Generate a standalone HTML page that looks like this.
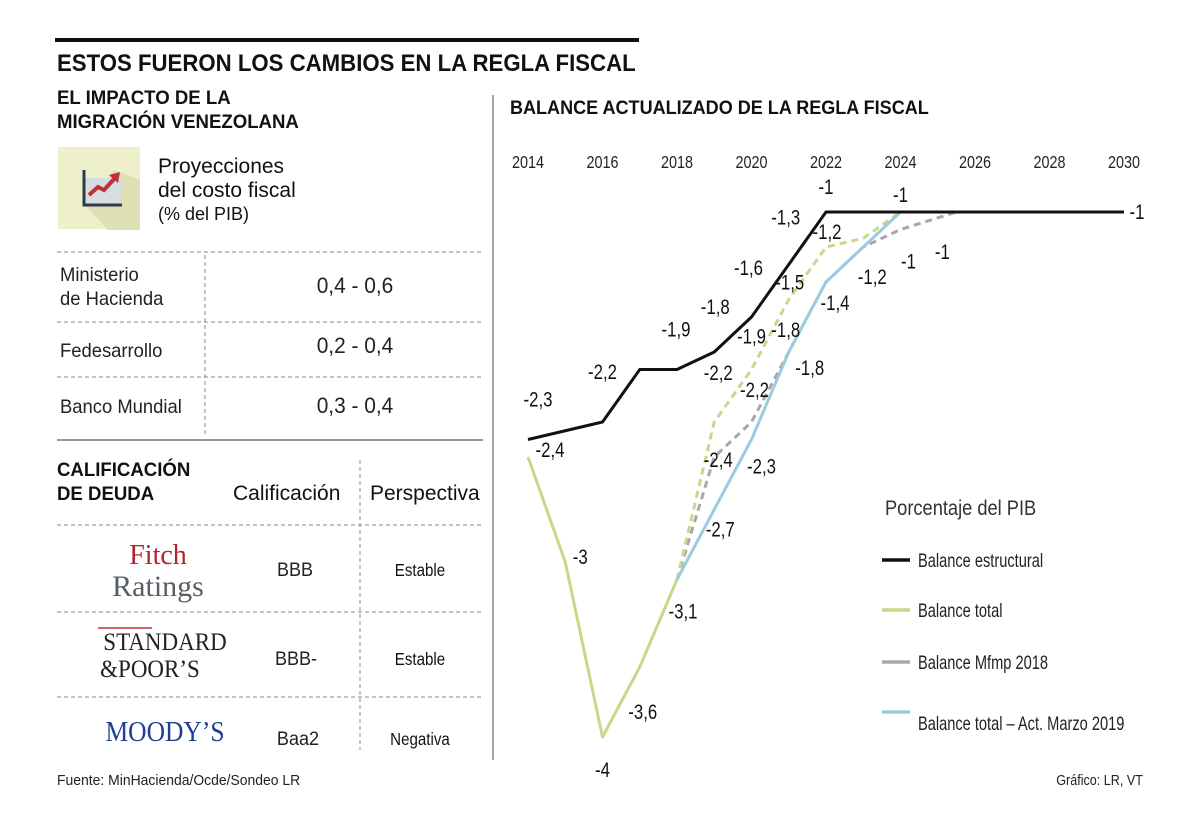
<!DOCTYPE html>
<html><head><meta charset="utf-8"><style>
html,body{margin:0;padding:0;background:#fff;}
svg{display:block;font-family:"Liberation Sans Narrow","Liberation Sans",sans-serif;}
</style></head><body>
<svg id="svg" width="1200" height="826" viewBox="0 0 1200 826">
<rect width="1200" height="826" fill="#fff"/>
<rect x="55" y="38" width="584" height="4" fill="#111"/>
<text x="57" y="71" font-size="24" font-weight="bold" fill="#111" data-sx="0.925">ESTOS FUERON LOS CAMBIOS EN LA REGLA FISCAL</text>
<text x="57" y="104" font-size="19" font-weight="bold" fill="#111" data-sx="0.98">EL IMPACTO DE LA</text>
<text x="57" y="128" font-size="19" font-weight="bold" fill="#111" data-sx="0.98">MIGRACIÓN VENEZOLANA</text>
<g>
<rect x="58" y="147" width="82" height="82" fill="#eef0c9"/>
<polygon points="85,205 108,230 140,230 140,180 114,170" fill="#dfe1b5"/>
<rect x="85" y="178" width="36" height="26" fill="#d8dde0"/>
<polyline points="84,170 84,205 122,205" fill="none" stroke="#2d3b4a" stroke-width="3"/>
<polyline points="89,195 98,187 104,190 115,178" fill="none" stroke="#c0303a" stroke-width="4"/>
<polygon points="109,175 120,172 118,183" fill="#c0303a"/>
</g>
<text x="158" y="173" font-size="21" fill="#111" data-sx="1">Proyecciones</text>
<text x="158" y="197" font-size="21" fill="#111" data-sx="1">del costo fiscal</text>
<text x="158" y="220" font-size="18" fill="#111" data-sx="1">(% del PIB)</text>
<g stroke="#888" stroke-dasharray="4,3" stroke-width="1" fill="none">
<line x1="57" y1="252" x2="483" y2="252"/><line x1="57" y1="322" x2="483" y2="322"/><line x1="57" y1="377" x2="483" y2="377"/>
<line x1="205" y1="255" x2="205" y2="435"/>
<line x1="57" y1="525" x2="483" y2="525"/><line x1="57" y1="612" x2="483" y2="612"/><line x1="57" y1="697" x2="483" y2="697"/>
<line x1="360" y1="460" x2="360" y2="750"/>
</g>
<line x1="57" y1="440" x2="483" y2="440" stroke="#777" stroke-width="1.5"/>
<g font-size="19" fill="#222">
<text x="60" y="281" data-sx="0.97">Ministerio</text>
<text x="60" y="305" data-sx="0.97">de Hacienda</text>
<text x="355" y="293" font-size="22" text-anchor="middle" data-sx="0.95">0,4  -  0,6</text>
<text x="60" y="357" data-sx="0.97">Fedesarrollo</text>
<text x="355" y="353" font-size="22" text-anchor="middle" data-sx="0.95">0,2  -  0,4</text>
<text x="60" y="413" data-sx="0.97">Banco Mundial</text>
<text x="355" y="413" font-size="22" text-anchor="middle" data-sx="0.95">0,3  -  0,4</text>
</g>
<text x="57" y="476" font-size="19" font-weight="bold" fill="#111" data-sx="0.98">CALIFICACIÓN</text>
<text x="57" y="500" font-size="19" font-weight="bold" fill="#111" data-sx="0.98">DE DEUDA</text>
<text x="233" y="500" font-size="21" fill="#111" data-sx="1">Calificación</text>
<text x="370" y="500" font-size="21" fill="#111" data-sx="1">Perspectiva</text>
<g font-family="Liberation Serif,serif">
<text x="158" y="564" font-size="28" fill="#b5222e" text-anchor="middle" data-sx="1">Fitch</text>
<text x="158" y="596" font-size="30" fill="#555e66" text-anchor="middle" data-sx="1">Ratings</text>
</g>
<text x="295" y="576" font-size="19" fill="#222" text-anchor="middle" data-sx="0.95">BBB</text>
<text x="420" y="576" font-size="18" fill="#111" text-anchor="middle" data-sx="0.84">Estable</text>
<g font-family="Liberation Serif,serif">
<line x1="98" y1="628" x2="152" y2="628" stroke="#c0303a" stroke-width="1.5"/>
<text x="165" y="650" font-size="25" fill="#222" text-anchor="middle" data-sx="0.92">STANDARD</text>
<text x="150" y="677" font-size="25" fill="#222" text-anchor="middle" data-sx="0.92">&amp;POOR’S</text>
</g>
<text x="165" y="741" font-family="Liberation Serif,serif" font-size="29" fill="#1f3f95" text-anchor="middle" data-sx="0.88">MOODY’S</text>
<text x="296" y="665" font-size="19" fill="#222" text-anchor="middle" data-sx="0.95">BBB-</text>
<text x="420" y="665" font-size="18" fill="#111" text-anchor="middle" data-sx="0.84">Estable</text>
<text x="298" y="745" font-size="19" fill="#222" text-anchor="middle" data-sx="0.95">Baa2</text>
<text x="420" y="745" font-size="18" fill="#111" text-anchor="middle" data-sx="0.84">Negativa</text>
<text x="57" y="785" font-size="15" fill="#222" data-sx="0.93">Fuente: MinHacienda/Ocde/Sondeo LR</text>
<text x="1143" y="785" font-size="15" fill="#222" text-anchor="end" data-sx="0.84">Gráfico: LR, VT</text>
<line x1="493" y1="95" x2="493" y2="760" stroke="#888" stroke-width="1.5"/>
<text x="510" y="114" font-size="19" font-weight="bold" fill="#111" data-sx="0.95">BALANCE ACTUALIZADO DE LA REGLA FISCAL</text>
<g id="chart"></g>
<g>
<text x="885" y="515" font-size="21" fill="#333" data-sx="0.87">Porcentaje del PIB</text>
<line x1="882" y1="560" x2="910" y2="560" stroke="#111" stroke-width="3.5"/>
<text x="918" y="567" font-size="19" fill="#222" data-sx="0.77">Balance estructural</text>
<line x1="882" y1="610" x2="910" y2="610" stroke="#c6d98a" stroke-width="3.5"/>
<text x="918" y="617" font-size="19" fill="#222" data-sx="0.77">Balance total</text>
<line x1="882" y1="662" x2="910" y2="662" stroke="#a9a7ad" stroke-width="3.5"/>
<text x="918" y="669" font-size="19" fill="#222" data-sx="0.77">Balance Mfmp 2018</text>
<line x1="882" y1="712" x2="910" y2="712" stroke="#9ccbe0" stroke-width="3.5"/>
<text x="918" y="730" font-size="19" fill="#222" data-sx="0.77">Balance total – Act. Marzo 2019</text>
</g>
</svg>
<script>
const tickYears=[2014,2016,2018,2020,2022,2024,2026,2028,2030];
const estrYears=[2014,2016,2017,2018,2019,2020,2021,2022,2024,2025.5,2027,2030];
const estrVals=[-2.3,-2.2,-1.9,-1.9,-1.8,-1.6,-1.3,-1,-1,-1,-1,-1];
const totalYears=[2014,2015,2016,2017,2018];
const totalVals=[-2.4,-3,-4,-3.6,-3.1];
const projYears=[2018,2019,2020,2021,2022,2023,2024,2025.5];
const projVals=[-3.1,-2.2,-1.9,-1.5,-1.2,-1.15,-1,-1];
const mfmpYears=[2018,2019,2020,2021,2022,2023,2024,2025.5];
const mfmpVals=[-3.1,-2.4,-2.2,-1.8,-1.4,-1.2,-1.1,-1];
const mfmpPrinted=['-3,1','-2,4','-2,2','-1,8','-1,4','-1,2','-1','-1'];
const marzoYears=[2018,2019,2020,2021,2022,2024];
const marzoVals=[-3.1,-2.7,-2.3,-1.8,-1.4,-1];
const xs=y=>528+(y-2014)*37.25;
const ys=v=>212+(-1-v)*175;
const NS='http://www.w3.org/2000/svg';
const g=document.getElementById('chart');
function mk(t,a){const e=document.createElementNS(NS,t);for(const k in a)e.setAttribute(k,a[k]);g.appendChild(e);return e;}
tickYears.forEach(y=>{const t=mk('text',{x:xs(y),y:168,'font-size':18,'text-anchor':'middle',fill:'#222','data-sx':'0.8'});t.textContent=y;

});
function line(xsA,vs,color,dash,name){const p=mk('polyline',{points:xsA.map((y,i)=>xs(y)+','+ys(vs[i])).join(' '),fill:'none',stroke:color,'stroke-width':3,'stroke-dasharray':dash||'none','stroke-linejoin':'round'});

}
line(mfmpYears,mfmpVals,'#a9a7ad','7,5','line-mfmp');
line(projYears,projVals,'#c6d98a','7,5','line-total-projection');
line(marzoYears,marzoVals,'#9ccbe0','','line-marzo');
line(totalYears,totalVals,'#c6d98a','','line-total');
line(estrYears,estrVals,'#111','','line-estructural');
function labels(years,vals,idx,offs,name,printed){idx.forEach((i,k)=>{const t=mk('text',{x:xs(years[i])+offs[k][0],y:ys(vals[i])+offs[k][1]+7,'font-size':21,'text-anchor':'middle',fill:'#111','data-sx':'0.8'});
t.textContent=printed?printed[i]:String(vals[i]).replace('.',',');

});}
labels(estrYears,estrVals,[0,1,3,4,5,6,7,11],[[10,-40],[0,-50],[-1,-40],[1,-45],[-3,-49],[-3,-47],[0,-25],[13,0]],'label-estructural');
labels(totalYears,totalVals,[0,1,2,3,4],[[22,-7],[15,-5],[0,33],[3,45],[6,32]],'label-total');
labels(projYears,projVals,[1,2,3,4,6],[[4,-49],[0,-33],[1,-17],[1,-15],[0,-17]],'label-total-projection');
labels(mfmpYears,mfmpVals,[1,2,3,4,5,6,7],[[4,3],[3,-32],[-3,-22],[9,21],[9,30],[8,32],[-14,40]],'label-mfmp',mfmpPrinted);
labels(marzoYears,marzoVals,[1,2,3],[[6,20],[10,27],[21,16]],'label-marzo');
document.querySelectorAll('#svg text').forEach(t=>{
  const s=parseFloat(t.getAttribute('data-sx')||'1');
  const x=parseFloat(t.getAttribute('x'));
  if(s!==1)t.setAttribute('transform','translate('+x+',0) scale('+s+',1) translate('+(-x)+',0)');
});
</script>
</body></html>
